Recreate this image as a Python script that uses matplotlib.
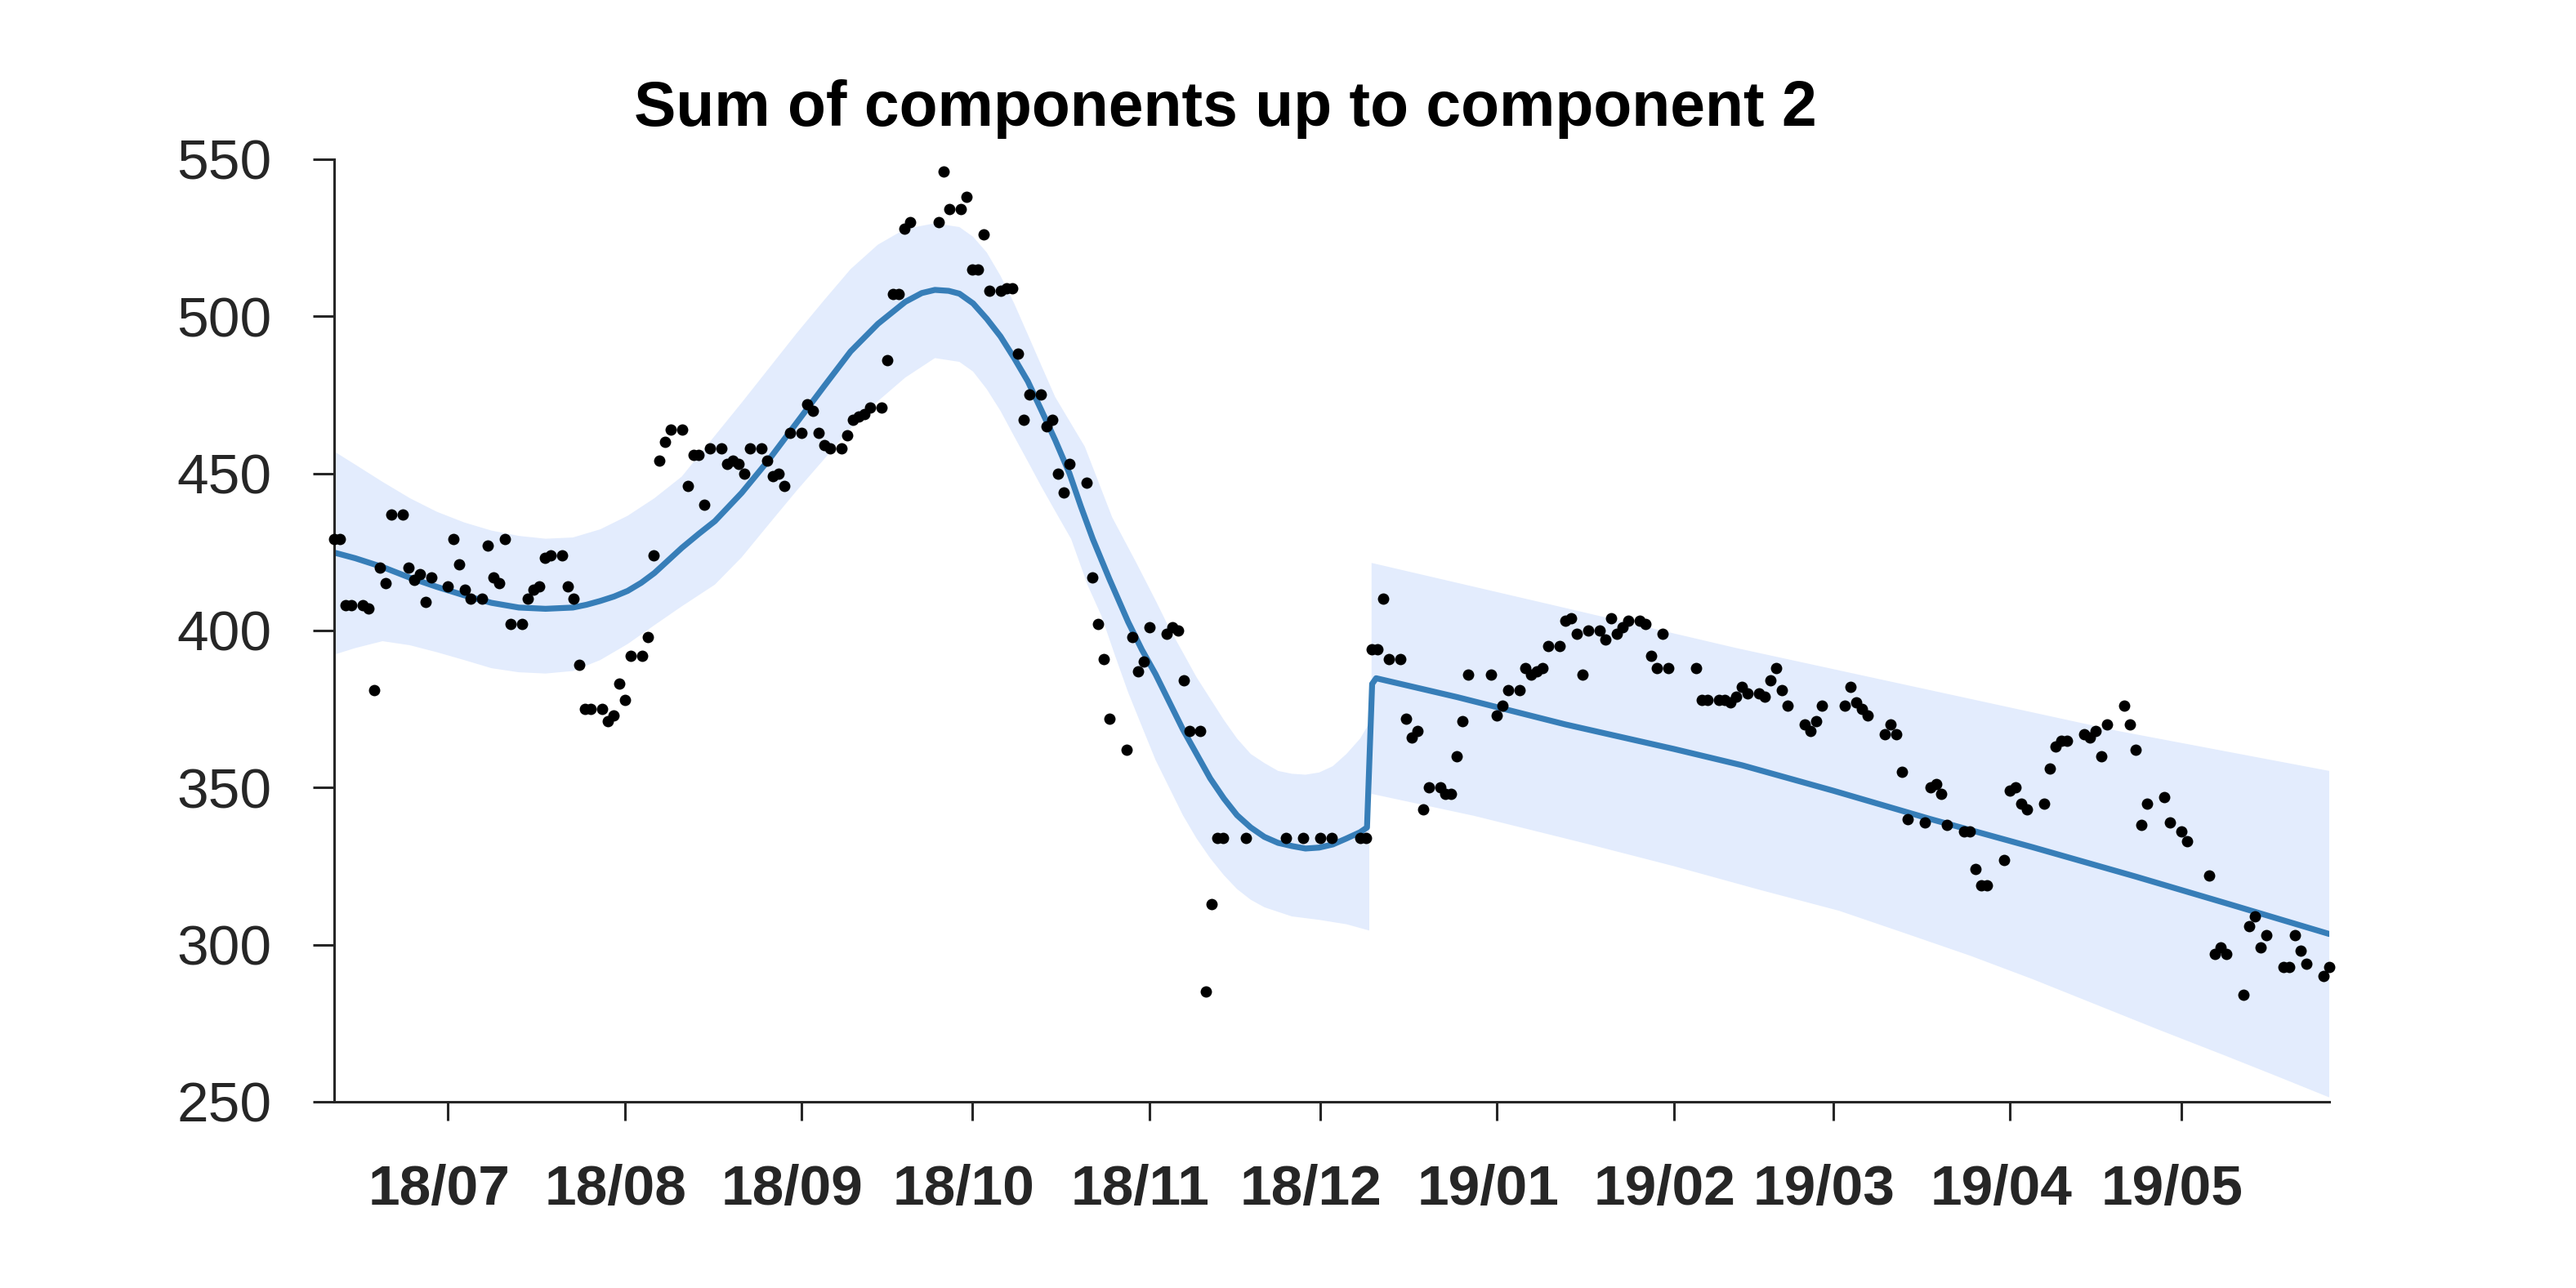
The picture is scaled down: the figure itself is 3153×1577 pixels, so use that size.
import numpy as np
import matplotlib.pyplot as plt
import matplotlib.dates as mdates
from matplotlib.transforms import ScaledTranslation

plt.rcParams['font.family'] = ['Liberation Sans', 'DejaVu Sans']

# --- data: days counted from 2018-07-01 ---
START = mdates.date2num(np.datetime64('2018-07-01'))

obs_day = [-20, -19, -18, -17, -15, -14, -13, -12, -11, -10, -8, -7, -6, -5, -4, -3,
           0, 1, 2, 3, 4, 6, 7, 8, 9, 10, 11, 13, 14, 15, 16, 17, 18, 20, 21, 22, 23,
           24, 25, 27, 28, 29, 30, 31, 32, 34, 35, 36, 37, 38, 39, 41, 42, 43, 44, 45,
           46, 48, 49, 50, 51, 52, 53, 55, 56, 57, 58, 59, 60, 62, 63, 64, 65, 66, 67,
           69, 70, 71, 72, 73, 74, 76, 77, 78, 79, 80, 81, 86, 87, 88, 90, 91, 92, 93,
           94, 95, 97, 98, 99, 100, 101, 102, 104, 105, 106, 107, 108, 109, 112, 113,
           114, 115, 116, 119, 120, 121, 122, 123, 126, 127, 128, 129, 130, 132, 133,
           134, 135, 136, 140, 147, 150, 153, 155, 160, 161, 162, 163, 164, 165, 167,
           168, 169, 170, 171, 172, 174, 175, 176, 177, 178, 179, 183, 184, 185, 186,
           188, 189, 190, 191, 192, 193, 195, 196, 197, 198, 199, 200, 202, 203, 204,
           205, 206, 207, 209, 210, 211, 212, 213, 214, 219, 220, 221, 223, 224, 225,
           226, 227, 228, 230, 231, 232, 233, 234, 235, 238, 239, 240, 241, 245, 246,
           247, 248, 249, 252, 253, 254, 255, 256, 259, 260, 261, 262, 263, 266, 267,
           268, 269, 270, 273, 274, 275, 276, 277, 280, 281, 282, 283, 284, 287, 288,
           289, 290, 291, 294, 295, 296, 297, 298, 301, 302, 304, 305, 309, 310, 311,
           312, 315, 316, 317, 318, 319, 322, 323, 324, 325, 326, 329, 330]
obs_val = [429, 429, 408, 408, 408, 407, 381, 420, 415, 437, 437, 420, 416, 418, 409, 417,
           414, 429, 421, 413, 410, 410, 427, 417, 415, 429, 402, 402, 410, 413, 414, 423,
           424, 424, 414, 410, 389, 375, 375, 375, 371, 373, 383, 378, 392, 392, 398, 424,
           454, 460, 464, 464, 446, 456, 456, 440, 458, 458, 453, 454, 453, 450, 458, 458,
           454, 449, 450, 446, 463, 463, 472, 470, 463, 459, 458, 458, 462, 467, 468, 469,
           471, 471, 486, 507, 507, 528, 530, 530, 546, 534, 534, 538, 515, 515, 526, 508,
           508, 509, 509, 488, 467, 475, 475, 465, 467, 450, 444, 453, 447, 417, 402, 391,
           372, 362, 398, 387, 390, 401, 399, 401, 400, 384, 368, 368, 285, 313, 334, 334,
           334, 334, 334, 334, 334, 334, 334, 394, 394, 410, 391, 391, 372, 366, 368, 343,
           350, 350, 348, 348, 360, 371, 386, 386, 373, 376, 381, 381, 388, 386, 387, 388,
           395, 395, 403, 404, 399, 386, 400, 400, 397, 404, 399, 401, 403, 403, 402, 392,
           388, 399, 388, 388, 378, 378, 378, 378, 377, 379, 382, 380, 380, 379, 384, 388,
           381, 376, 370, 368, 371, 376, 376, 382, 377, 375, 373, 367, 370, 367, 355, 340,
           339, 350, 351, 348, 338, 336, 336, 324, 319, 319, 327, 349, 350, 345, 343, 345,
           356, 363, 365, 365, 367, 366, 368, 360, 370, 376, 370, 362, 338, 345, 347, 339,
           336, 333, 322, 297, 299, 297, 284, 306, 309, 299, 303, 293, 293, 303, 298, 294,
           290, 293]

# fitted curve
fit_day = [-20, -16.3, -11.5, -6.7, -2.0, 2.8, 7.6, 12.4, 17.1, 21.9, 24.3, 26.7, 29.1,
           31.5, 33.9, 36.2, 38.6, 41.0, 44.0, 46.8, 51.5, 56.3, 61.1, 65.9, 70.6, 75.4,
           80.2, 83.1, 85.4, 87.8, 89.7, 92.1, 94.5, 96.9, 99.3, 101.7, 104.1, 106.5,
           109.0, 111.0, 113.1, 116.0, 119.3, 121.7, 124.1, 126.5, 128.9, 131.3, 133.7,
           136.1, 138.4, 140.8, 143.2, 145.6, 148.0, 150.4, 152.8, 155.2, 157.6, 160.0,
           161.2, 162.1, 162.8, 177, 196, 215, 227, 243, 260, 278, 296, 313, 330]
fit_val = [424.8, 423.0, 420.2, 416.8, 413.9, 411.2, 408.8, 407.3, 406.9, 407.3, 408.2,
           409.4, 410.8, 412.6, 415.2, 418.3, 422.3, 426.3, 430.8, 434.8, 443.8, 454.4,
           466.0, 477.6, 488.8, 497.6, 504.6, 507.4, 508.4, 508.1, 507.2, 504.1, 499.2,
           493.6, 486.7, 479.3, 470.0, 460.6, 450.0, 439.5, 429.1, 416.4, 402.7, 393.9,
           386.1, 377.3, 368.5, 360.7, 352.9, 346.5, 341.2, 337.3, 334.3, 332.4, 331.4,
           330.6, 330.9, 331.9, 333.8, 335.8, 337.3, 383.0, 384.8, 378.8, 370.1, 362.3,
           357.1, 349.0, 340.0, 331.0, 321.7, 312.6, 303.4]

# uncertainty band, first segment
band1_hi_day = [-20, -16.3, -11.5, -6.7, -2.0, 2.8, 7.6, 12.4, 17.1, 21.9, 26.7, 31.5,
                36.2, 41.0, 46.8, 51.5, 56.3, 61.1, 65.9, 70.6, 75.4, 80.2, 85.4, 89.7,
                92.1, 94.5, 96.9, 99.3, 101.7, 104.1, 106.5, 111.7, 116.5, 120.8, 124.1,
                126.5, 128.9, 131.3, 133.7, 136.1, 138.4, 140.8, 143.2, 145.6, 148.0,
                150.4, 152.8, 155.2, 157.6, 160.0, 161.6]
band1_hi = [457.0, 452.8, 447.3, 442.1, 437.8, 434.4, 431.8, 430.1, 429.2, 429.6, 432.2,
            436.5, 442.1, 449.0, 462.0, 472.5, 483.5, 494.5, 505.0, 515.0, 522.8, 527.8,
            529.6, 528.4, 525.3, 520.3, 512.9, 504.1, 494.2, 484.2, 474.3, 458.5, 436.0,
            421.3, 409.6, 400.8, 393.0, 385.1, 378.3, 371.5, 365.6, 360.7, 357.8, 355.3,
            354.4, 354.1, 354.8, 356.8, 360.7, 365.6, 370.5]
band1_lo_day = [-20, -16.3, -11.5, -6.7, -2.0, 2.8, 7.6, 12.4, 17.1, 21.9, 26.7, 31.5,
                36.2, 41.0, 46.8, 51.5, 56.3, 61.1, 65.9, 70.6, 75.4, 80.2, 85.4, 89.7,
                92.1, 94.5, 96.9, 99.3, 101.7, 104.1, 106.5, 109.3, 112.2, 114.6, 117.0,
                119.3, 121.7, 124.1, 126.5, 128.9, 131.3, 133.7, 136.1, 138.4, 140.8,
                143.2, 148.0, 152.8, 157.6, 161.6]
band1_lo = [392.3, 394.4, 396.6, 395.3, 393.1, 390.6, 388.0, 386.7, 386.3, 387.1, 390.6,
            395.7, 401.7, 407.7, 414.6, 423.3, 433.9, 444.4, 454.4, 464.3, 473.0, 480.5,
            486.7, 485.5, 482.4, 476.8, 469.9, 461.8, 453.8, 445.7, 438.0, 429.1, 414.4,
            404.7, 392.0, 380.3, 369.5, 358.8, 350.0, 341.2, 333.8, 327.5, 322.1, 317.7,
            314.3, 311.9, 309.0, 307.9, 306.5, 304.5]

# uncertainty band, second segment
band2_hi_day = [162, 194, 226, 260, 293, 330]
band2_hi = [421.5, 408.0, 394.4, 381.0, 368.0, 355.3]
band2_lo_day = [162, 180, 200, 215, 230, 244, 255, 267, 278, 289, 300, 312, 321, 330]
band2_lo = [348.0, 341.0, 332.0, 325.0, 317.5, 310.8, 304.0, 296.5, 289.0, 281.0, 273.0,
            264.5, 258.0, 251.4]


def band_polygon(hi_day, hi, lo_day, lo):
    xs = START + np.r_[np.array(hi_day, float), np.array(lo_day, float)[::-1]]
    ys = np.r_[np.array(hi, float), np.array(lo, float)[::-1]]
    return xs, ys


# --- figure ---
fig = plt.figure(figsize=(15.765, 7.885), dpi=200)
ax = fig.add_axes([0.1297, 0.1446, 0.7745, 0.7318])

band_color = '#e3ecfd'
for hd, h, ld, l in [(band1_hi_day, band1_hi, band1_lo_day, band1_lo),
                     (band2_hi_day, band2_hi, band2_lo_day, band2_lo)]:
    bx, by = band_polygon(hd, h, ld, l)
    ax.fill(bx, by, color=band_color, lw=0, zorder=1)

ax.plot(START + np.array(fit_day, float), fit_val, color='#377eb8', lw=2.6, zorder=2,
        solid_capstyle='round', solid_joinstyle='round')
ax.scatter(START + np.array(obs_day, float), obs_val, s=25, color='black', lw=0,
           zorder=3, clip_on=False)

ax.set_xlim(START - 20, START + 330)
ax.set_ylim(250, 550)
ax.set_yticks([250, 300, 350, 400, 450, 500, 550])

ax.xaxis.set_major_locator(mdates.MonthLocator(bymonthday=1))
ax.xaxis.set_major_formatter(mdates.DateFormatter('%y/%m'))

ink = '#262626'
for side in ['top', 'right']:
    ax.spines[side].set_visible(False)
for side in ['left', 'bottom']:
    ax.spines[side].set_linewidth(1.1)
    ax.spines[side].set_color(ink)

ax.tick_params(axis='y', direction='out', length=9.4, width=1.1, color=ink,
               labelsize=25, labelcolor=ink, pad=18)
ax.tick_params(axis='x', direction='out', length=8.3, width=1.1, color=ink,
               labelsize=25, labelcolor=ink, pad=19)
shift = ScaledTranslation(-4 / 72, 0, fig.dpi_scale_trans)
for lab in ax.get_xticklabels():
    lab.set_fontweight('bold')
    lab.set_transform(lab.get_transform() + shift)

fig.text(0.4757, 1 - 154 / 1577, 'Sum of components up to component 2',
         ha='center', va='baseline', fontsize=27.7, fontweight='bold', color='black')

fig.savefig('out.png', dpi=200, facecolor='white')
